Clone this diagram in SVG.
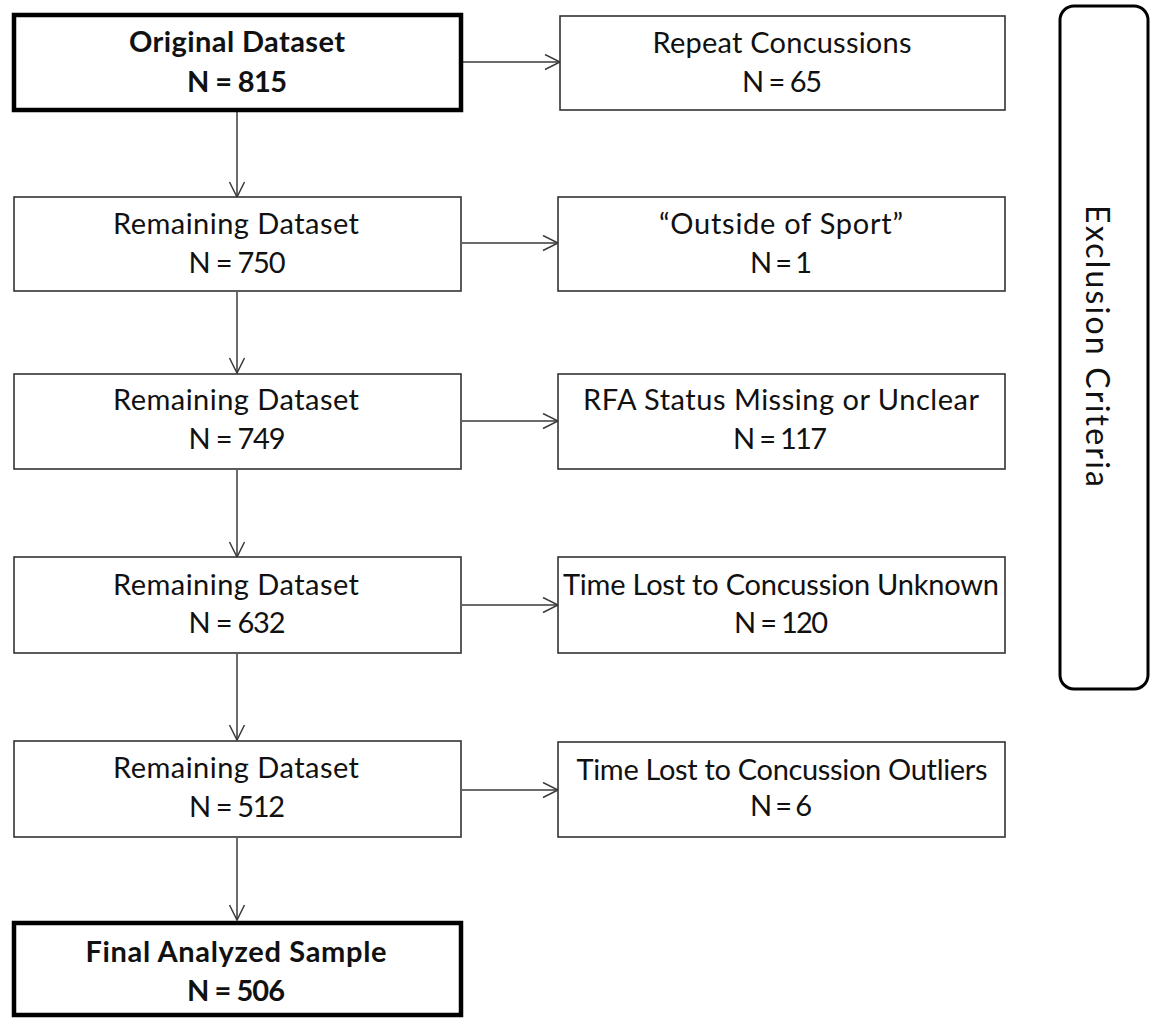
<svg xmlns="http://www.w3.org/2000/svg" width="1152" height="1018" viewBox="0 0 1152 1018">
<style>
.box{fill:#fff;stroke:#333;stroke-width:1.6}
.thick{fill:#fff;stroke:#000;stroke-width:4.5}
.t{font-family:Lato,"Liberation Sans",sans-serif;font-size:29px;fill:#111;text-anchor:middle}
.b{font-weight:bold}
.c{stroke:#3a3a3a;stroke-width:1.5;fill:none;marker-end:url(#ah)}
</style>
<defs>
<marker id="ah" markerWidth="18" markerHeight="18" refX="16" refY="8.5" orient="auto" markerUnits="userSpaceOnUse">
<path d="M1,1 L16,8.5 L1,16" fill="none" stroke="#3a3a3a" stroke-width="1.5"/>
</marker>
</defs>
<rect width="1152" height="1018" fill="#fff"/>
<g id="connectors">
<line class="c" x1="237" y1="112" x2="237" y2="197"/>
<line class="c" x1="237" y1="292" x2="237" y2="373"/>
<line class="c" x1="237" y1="470" x2="237" y2="557"/>
<line class="c" x1="237" y1="654" x2="237" y2="740"/>
<line class="c" x1="237" y1="838" x2="237" y2="920"/>
<line class="c" x1="463" y1="62" x2="560" y2="62"/>
<line class="c" x1="462" y1="243" x2="558" y2="243"/>
<line class="c" x1="462" y1="421" x2="558" y2="421"/>
<line class="c" x1="462" y1="605" x2="558" y2="605"/>
<line class="c" x1="462" y1="790" x2="558" y2="790"/>
</g>
<g id="original">
<rect class="thick" x="14" y="15" width="447" height="95"/>
<text class="t b" x="237" y="52" textLength="216">Original Dataset</text>
<text class="t b" x="237" y="92" textLength="100">N = 815</text>
</g>
<g id="repeat">
<rect class="box" x="560" y="16" width="445" height="94"/>
<text class="t" x="782" y="53" textLength="259">Repeat Concussions</text>
<text class="t" x="782" y="92" textLength="80">N = 65</text>
</g>
<g id="remaining1">
<rect class="box" x="14" y="197" width="447" height="94"/>
<text class="t" x="236" y="234" textLength="246">Remaining Dataset</text>
<text class="t" x="237" y="273" textLength="97">N = 750</text>
</g>
<g id="outside">
<rect class="box" x="558" y="197" width="447" height="94"/>
<text class="t" x="781" y="234" textLength="244">“Outside of Sport”</text>
<text class="t" x="781" y="273" textLength="62">N = 1</text>
</g>
<g id="remaining2">
<rect class="box" x="14" y="374" width="447" height="95"/>
<text class="t" x="236" y="410" textLength="246">Remaining Dataset</text>
<text class="t" x="237" y="449" textLength="97">N = 749</text>
</g>
<g id="rfa">
<rect class="box" x="558" y="374" width="447" height="95"/>
<text class="t" x="781" y="410" textLength="396">RFA Status Missing or Unclear</text>
<text class="t" x="780" y="449" textLength="94">N = 117</text>
</g>
<g id="remaining3">
<rect class="box" x="14" y="557" width="447" height="96"/>
<text class="t" x="236" y="595" textLength="246">Remaining Dataset</text>
<text class="t" x="237" y="633" textLength="97">N = 632</text>
</g>
<g id="unknown">
<rect class="box" x="558" y="557" width="447" height="96"/>
<text class="t" x="781" y="595" textLength="436">Time Lost to Concussion Unknown</text>
<text class="t" x="781" y="633" textLength="94">N = 120</text>
</g>
<g id="remaining4">
<rect class="box" x="14" y="741" width="447" height="96"/>
<text class="t" x="236" y="778" textLength="246">Remaining Dataset</text>
<text class="t" x="237" y="817" textLength="96">N = 512</text>
</g>
<g id="outliers">
<rect class="box" x="558" y="742" width="447" height="95"/>
<text class="t" x="782" y="780" textLength="411">Time Lost to Concussion Outliers</text>
<text class="t" x="781" y="816" textLength="62">N = 6</text>
</g>
<g id="final">
<rect class="thick" x="14" y="923" width="447" height="92"/>
<text class="t b" x="236" y="962" textLength="301">Final Analyzed Sample</text>
<text class="t b" x="236" y="1001" textLength="98">N = 506</text>
</g>
<g id="exclusion">
<rect x="1060" y="6" width="88" height="683" rx="14" ry="14" fill="#fff" stroke="#000" stroke-width="3"/>
<text class="t" x="0" y="0" transform="translate(1086 346) rotate(90)" style="font-size:32px" textLength="282">Exclusion Criteria</text>
</g>
</svg>
